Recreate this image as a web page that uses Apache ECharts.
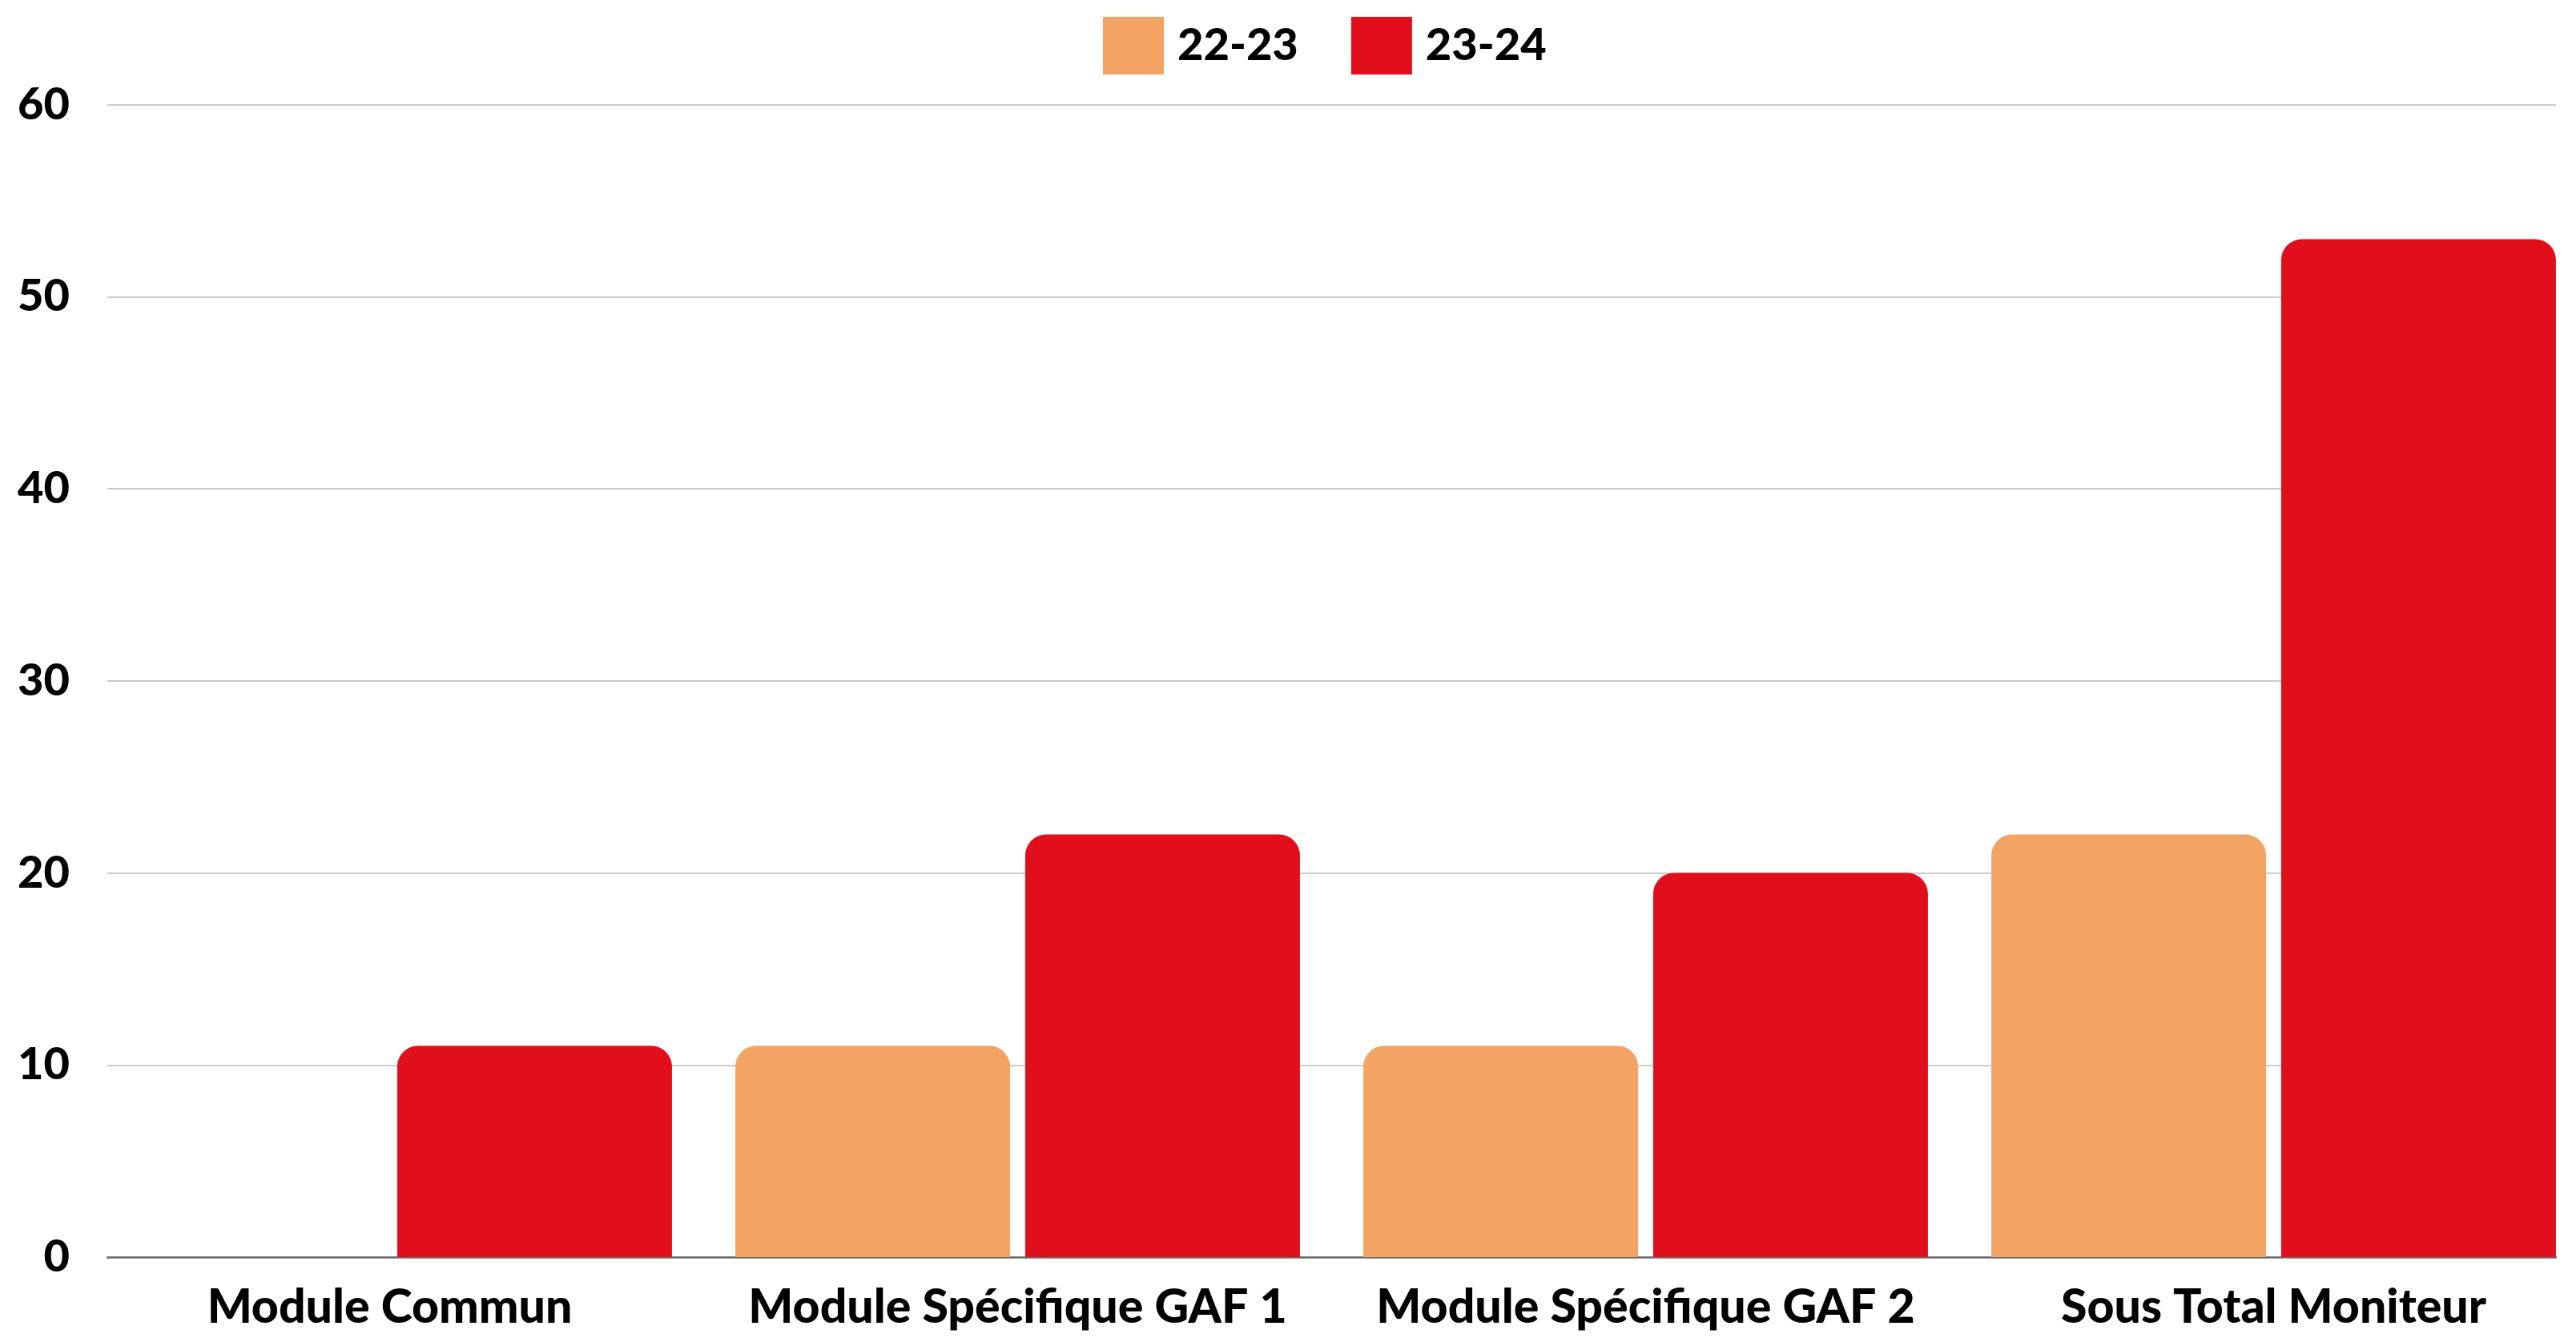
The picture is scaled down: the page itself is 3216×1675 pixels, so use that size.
<!DOCTYPE html>
<html>
<head>
<meta charset="utf-8">
<script src="https://cdn.jsdelivr.net/npm/echarts@6/dist/echarts.min.js"></script>
<style>
html,body{margin:0;padding:0;background:#fff;}
#chart{width:3216px;height:1675px;}
</style>
</head>
<body>
<div id="chart"></div>
<script>
const categories = ['Module Commun', 'Module Spécifique GAF 1', 'Module Spécifique GAF 2', 'Sous Total Moniteur'];
const seriesNames = ['22-23', '23-24'];
const values2223 = [0, 11, 11, 22];
const values2324 = [11, 22, 20, 53];
const yTicks = { min: 0, max: 60, interval: 10 };

const chart = echarts.init(document.getElementById('chart'), null, { renderer: 'canvas' });
const labelFont = "Lato, 'Open Sans', sans-serif";

chart.setOption({
  animation: false,
  backgroundColor: '#ffffff',
  legend: {
    top: 16,
    left: 1372,
    itemWidth: 76,
    itemHeight: 72,
    itemGap: 66,
    icon: 'rect',
    textStyle: { fontFamily: labelFont, fontWeight: 900, fontSize: 56, color: '#000', padding: [0, 0, 0, 12] },
    data: seriesNames
  },
  grid: [
    { left: 134, top: 130.7, width: 3191 - 134, height: 1569 - 130.7, outerBoundsMode: 'none', containLabel: false },
    { left: 94.5, top: 130.7, width: 3136, height: 1569 - 130.7, outerBoundsMode: 'none', containLabel: false }
  ],
  xAxis: [
    {
      type: 'category', gridIndex: 0, data: categories,
      axisLine: { show: true, lineStyle: { color: '#6b6b6b', width: 2.5 } },
      axisTick: { show: false }, axisLabel: { show: false }, splitLine: { show: false }
    },
    {
      type: 'category', gridIndex: 1, data: categories,
      axisLine: { show: false }, axisTick: { show: false },
      axisLabel: { show: true, interval: 0, fontFamily: labelFont, fontWeight: 900, fontSize: 59, color: '#000', margin: 33 }
    }
  ],
  yAxis: [
    {
      type: 'value', gridIndex: 0, min: yTicks.min, max: yTicks.max, interval: yTicks.interval,
      axisLine: { show: false }, axisTick: { show: false },
      axisLabel: { fontFamily: labelFont, fontWeight: 900, fontSize: 56, color: '#000', margin: 47 },
      splitLine: { show: true, lineStyle: { color: '#cccccc', width: 2 } }
    },
    {
      type: 'value', gridIndex: 1, min: yTicks.min, max: yTicks.max, interval: yTicks.interval,
      show: false, splitLine: { show: false }
    }
  ],
  series: [
    {
      name: seriesNames[0], type: 'bar', xAxisIndex: 1, yAxisIndex: 1,
      data: values2223, barWidth: 343, barGap: '5.5%',
      itemStyle: { color: '#F3A464', borderRadius: [26, 26, 0, 0] }
    },
    {
      name: seriesNames[1], type: 'bar', xAxisIndex: 1, yAxisIndex: 1,
      data: values2324, barWidth: 343, barGap: '5.5%',
      itemStyle: { color: '#E10F1B', borderRadius: [26, 26, 0, 0] }
    }
  ]
});
</script>
</body>
</html>
